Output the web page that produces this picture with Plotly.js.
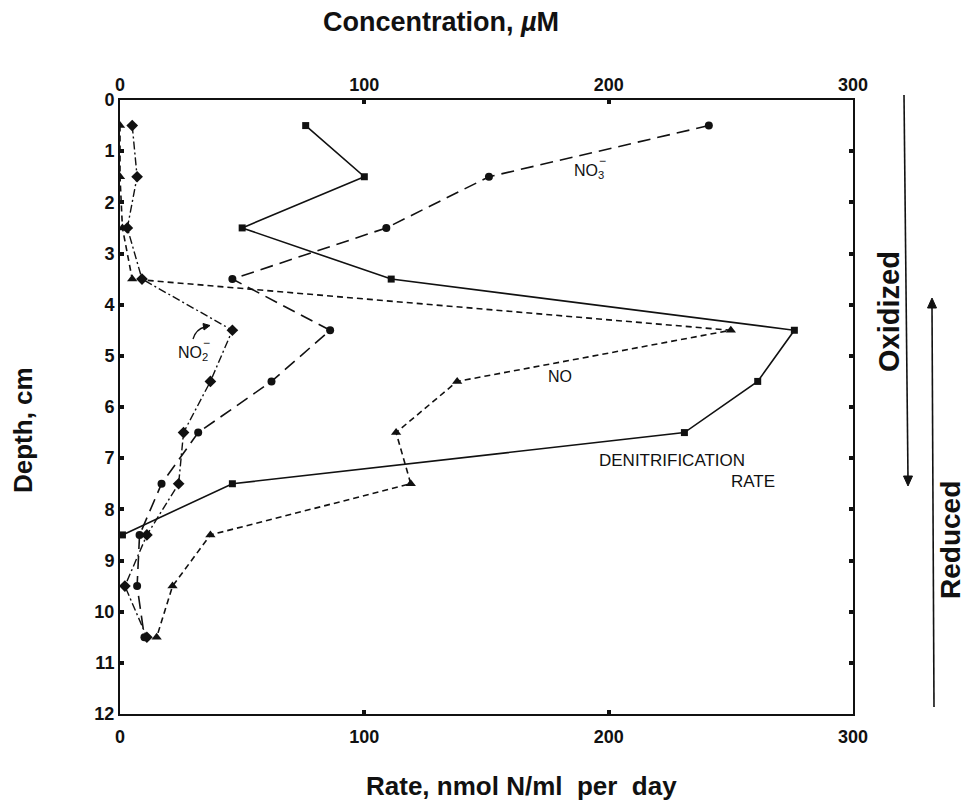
<!DOCTYPE html>
<html>
<head>
<meta charset="utf-8">
<script src="https://cdn.plot.ly/plotly-3.0.1.min.js"></script>
<style>html,body{margin:0;padding:0;background:#fff;}#chart{width:968px;height:804px;}</style>
</head>
<body>
<div id="chart"></div>
<script>
// Depth of each sample, cm
const depth = [0.5, 1.5, 2.5, 3.5, 4.5, 5.5, 6.5, 7.5, 8.5, 9.5, 10.5];
// Denitrification rate, nmol N/ml per day (bottom axis)
const denitDepth = [0.5, 1.5, 2.5, 3.5, 4.5, 5.5, 6.5, 7.5, 8.5];
const denitRate = [76, 100, 50, 111, 276, 261, 231, 46, 1];
// Concentrations, µM (top axis)
const no3 = [241, 151, 109, 46, 86, 62, 32, 17, 8, 7, 10];
const no2 = [5, 7, 3, 9, 46, 37, 26, 24, 11, 2, 11];
const no = [0, 0, 1, 5, 250, 138, 113, 119, 37, 21.5, 15];
// Tick labels
const xTicks = [0, 100, 200, 300];
const yTicks = [0, 1, 2, 3, 4, 5, 6, 7, 8, 9, 10, 11, 12];

const ink = '#111111';
const F = 'Liberation Sans, Arial, sans-serif';

// plot-area pixel frame helpers (for decorations only)
const L = 120, R = 853, T = 100, B = 714;
const px = v => (v - L) / (R - L);
const py = v => (B - v) / (B - T);

const traces = [
  {x: denitRate, y: denitDepth, xaxis: 'x', yaxis: 'y', mode: 'lines+markers', name: 'Denitrification rate',
   line: {color: ink, width: 1.6}, marker: {symbol: 'square', size: 7, color: ink}},
  {x: no3, y: depth, xaxis: 'x2', yaxis: 'y2', mode: 'lines+markers', name: 'NO3-',
   line: {color: ink, width: 1.6, dash: '13px,7px'}, marker: {symbol: 'circle', size: 8, color: ink}},
  {x: no, y: depth, xaxis: 'x2', yaxis: 'y', mode: 'lines+markers', name: 'NO',
   line: {color: ink, width: 1.6, dash: '6px,4px'}, marker: {symbol: 'triangle-up', size: 9, color: ink}},
  {x: no2, y: depth, xaxis: 'x2', yaxis: 'y', mode: 'lines+markers', name: 'NO2-',
   line: {color: ink, width: 1.4, dash: '8px,3px,2px,3px'}, marker: {symbol: 'diamond', size: 9, color: ink}}
];

const tickFont = {family: F, size: 18, color: ink, weight: 'bold'};
const labelFont = {family: F, size: 16, color: ink};
const big = s => ({family: F, size: s, color: ink, weight: 'bold'});
const C = {xanchor: 'center', yanchor: 'middle', showarrow: false, xref: 'paper', yref: 'paper'};

const layout = {
  width: 968, height: 804,
  margin: {l: L, r: 968 - R, t: T, b: 804 - B},
  paper_bgcolor: '#fff', plot_bgcolor: '#fff',
  showlegend: false,
  xaxis: {range: [0, 300], tickvals: xTicks, ticktext: xTicks.map(String), side: 'bottom',
    showline: true, linecolor: ink, linewidth: 2, showgrid: false, zeroline: false,
    ticks: 'inside', ticklen: 4, tickwidth: 4, tickcolor: ink, tickfont: tickFont, ticklabelstandoff: 5},
  xaxis2: {range: [0, 300], matches: 'x', overlaying: 'x', side: 'top', tickvals: xTicks, ticktext: xTicks.map(String),
    showline: true, linecolor: ink, linewidth: 2, showgrid: false, zeroline: false,
    ticks: 'inside', ticklen: 4, tickwidth: 4, tickcolor: ink, tickfont: tickFont},
  yaxis: {range: [12, 0], tickvals: yTicks, side: 'left',
    showline: true, linecolor: ink, linewidth: 2, showgrid: false, zeroline: false,
    ticks: 'inside', ticklen: 4, tickwidth: 4, tickcolor: ink, tickfont: tickFont},
  yaxis2: {range: [12, 0], matches: 'y', overlaying: 'y', side: 'right', tickvals: yTicks,
    showline: true, linecolor: ink, linewidth: 2, showgrid: false, zeroline: false,
    ticks: 'inside', ticklen: 4, tickwidth: 4, tickcolor: ink, showticklabels: false},
  shapes: [
    // Oxidized arrow (down)
    {type: 'line', xref: 'paper', yref: 'paper', x0: px(904), y0: py(95), x1: px(908), y1: py(478), line: {color: ink, width: 1.6}},
    {type: 'path', xref: 'paper', yref: 'paper', fillcolor: ink, line: {color: ink, width: 1},
     path: `M ${px(903.5)} ${py(476)} L ${px(912.5)} ${py(476)} L ${px(908)} ${py(486)} Z`},
    // Reduced arrow (up)
    {type: 'line', xref: 'paper', yref: 'paper', x0: px(934), y0: py(707), x1: px(932), y1: py(306), line: {color: ink, width: 1.6}},
    {type: 'path', xref: 'paper', yref: 'paper', fillcolor: ink, line: {color: ink, width: 1},
     path: `M ${px(927.5)} ${py(308)} L ${px(936.5)} ${py(308)} L ${px(932)} ${py(298)} Z`},
    // NO2- pointer arrow
    {type: 'path', xref: 'paper', yref: 'paper', line: {color: ink, width: 1.3},
     path: `M ${px(193)} ${py(339)} Q ${px(196)} ${py(329)} ${px(205)} ${py(327)}`},
    {type: 'path', xref: 'paper', yref: 'paper', fillcolor: ink, line: {color: ink, width: 1},
     path: `M ${px(203)} ${py(323.5)} L ${px(210)} ${py(325.5)} L ${px(204)} ${py(330)} Z`}
  ],
  annotations: [
    Object.assign({x: px(441), y: py(22), text: 'Concentration, <i>µ</i>M', font: big(27)}, C),
    Object.assign({x: px(521), y: py(786), text: 'Rate, nmol N/ml  per  day', font: big(26)}, C),
    Object.assign({x: px(23), y: py(430), text: 'Depth, cm', textangle: -90, font: big(26)}, C),
    Object.assign({x: px(889), y: py(312), text: 'Oxidized', textangle: -90, font: big(29)}, C),
    Object.assign({x: px(950), y: py(540), text: 'Reduced', textangle: -90, font: big(28)}, C),
    {xref: 'x2', yref: 'y', x: 185, y: 1.4, xanchor: 'left', yanchor: 'middle', text: 'NO<sub>3</sub>', showarrow: false, font: labelFont},
    {xref: 'x2', yref: 'y', x: 195.3, y: 1.2, xanchor: 'left', yanchor: 'middle', text: '−', showarrow: false, font: {family: F, size: 12, color: ink}},
    {xref: 'x2', yref: 'y', x: 23, y: 4.95, xanchor: 'left', yanchor: 'middle', text: 'NO<sub>2</sub>', showarrow: false, font: labelFont},
    {xref: 'x2', yref: 'y', x: 33, y: 4.75, xanchor: 'left', yanchor: 'middle', text: '−', showarrow: false, font: {family: F, size: 12, color: ink}},
    {xref: 'x2', yref: 'y', x: 180, y: 5.4, xanchor: 'center', yanchor: 'middle', text: 'NO', showarrow: false, font: labelFont},
    {xref: 'x', yref: 'y', x: 226, y: 7.05, xanchor: 'center', yanchor: 'middle', text: 'DENITRIFICATION', showarrow: false, font: {family: F, size: 17, color: ink}},
    {xref: 'x', yref: 'y', x: 269, y: 7.45, xanchor: 'right', yanchor: 'middle', text: 'RATE', showarrow: false, font: {family: F, size: 17, color: ink}}
  ]
};

Plotly.newPlot('chart', traces, layout, {displayModeBar: false, staticPlot: true});
</script>
</body>
</html>
